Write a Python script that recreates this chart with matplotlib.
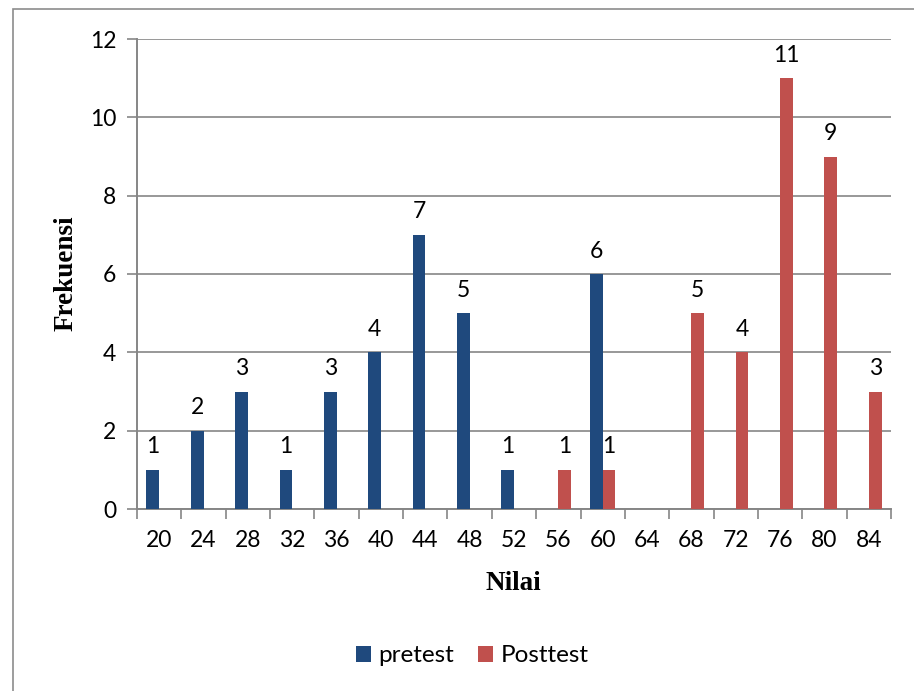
import numpy as np
import matplotlib
matplotlib.use("Agg")
import matplotlib.pyplot as plt
from matplotlib.patches import Rectangle

categories = ["20", "24", "28", "32", "36", "40", "44", "48", "52",
              "56", "60", "64", "68", "72", "76", "80", "84"]
pretest = [1, 2, 3, 1, 3, 4, 7, 5, 1, np.nan, 6, np.nan, np.nan, np.nan, np.nan, np.nan, np.nan]
posttest = [np.nan, np.nan, np.nan, np.nan, np.nan, np.nan, np.nan, np.nan, np.nan,
            1, 1, np.nan, 5, 4, 11, 9, 3]
y_ticks = [0, 2, 4, 6, 8, 10, 12]

blue = "#1F497D"
red = "#C0504D"
grid_gray = "#868686"
text_font = ["Lato", "DejaVu Sans"]
title_font = ["Liberation Serif", "DejaVu Serif"]
fs = 16.5

W, H = 914, 691
fig = plt.figure(figsize=(W / 100, H / 100), dpi=100)

# outer chart frame
fig.patches.append(Rectangle((13 / W, -0.05), 1.1, (H - 9) / H + 0.05,
                             transform=fig.transFigure, fill=False,
                             edgecolor="#8C8C8C", linewidth=1.2))

left, right, top, bottom = 137, 891, 39, 509
ax = fig.add_axes([left / W, 1 - bottom / H, (right - left) / W, (bottom - top) / H])

n = len(categories)
x = np.arange(n)
bw = 0.286
ax.bar(x - bw / 2, pretest, width=bw, color=blue, label="pretest", zorder=3)
ax.bar(x + bw / 2, posttest, width=bw, color=red, label="Posttest", zorder=3)

for xi, v in zip(x - bw / 2, pretest):
    if not np.isnan(v):
        ax.annotate(f"{int(v)}", (xi, v), xytext=(0, 9), textcoords="offset points",
                    ha="center", va="bottom", fontsize=fs, family=text_font)
for xi, v in zip(x + bw / 2, posttest):
    if not np.isnan(v):
        ax.annotate(f"{int(v)}", (xi, v), xytext=(0, 9), textcoords="offset points",
                    ha="center", va="bottom", fontsize=fs, family=text_font)

ax.set_xlim(-0.5, n - 0.5)
ax.set_ylim(0, 12)
ax.set_yticks(y_ticks)
ax.set_yticklabels([str(t) for t in y_ticks], family=text_font, fontsize=fs)
ax.yaxis.grid(True, color=grid_gray, linewidth=1.2, zorder=0)
ax.set_axisbelow(True)

# category labels at centres, tick marks at category boundaries
ax.set_xticks(x)
ax.set_xticklabels(categories, family=text_font, fontsize=fs)
ax.set_xticks(np.arange(-0.5, n, 1), minor=True)
ax.tick_params(axis="x", which="major", length=0, pad=15)
ax.tick_params(axis="x", which="minor", length=7, color=grid_gray, width=1.2)
ax.tick_params(axis="y", length=7, color=grid_gray, width=1.2, pad=8)

for s in ["top", "right"]:
    ax.spines[s].set_visible(False)
for s in ["left", "bottom"]:
    ax.spines[s].set_color(grid_gray)
    ax.spines[s].set_linewidth(1.4)

fig.text(66 / W, 1 - 273 / H, "Frekuensi", rotation=90, ha="center", va="center",
         fontsize=19.5, fontweight="bold", family=title_font)
fig.text(513 / W, 1 - 584 / H, "Nilai", ha="center", va="center",
         fontsize=19.5, fontweight="bold", family=title_font)

leg = fig.legend(loc="center", bbox_to_anchor=(472 / W, 1 - 656 / H), ncol=2,
                 frameon=False, prop={"family": text_font, "size": 17.5},
                 handlelength=0.62, handleheight=0.62, handletextpad=0.3,
                 columnspacing=1.0)

fig.savefig("out.png", dpi=100)
